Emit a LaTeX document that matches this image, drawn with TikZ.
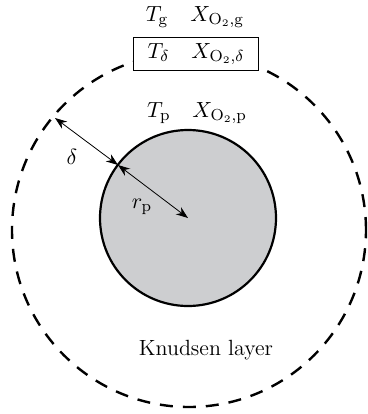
\documentclass[tikz,border=0pt]{standalone}
\usepackage{amsmath}
\usetikzlibrary{arrows.meta}
\definecolor{particlegray}{RGB}{205,206,208}

\begin{document}
\begin{tikzpicture}[x=0.5pt, y=-0.5pt, font=\fontsize{11}{13}\selectfont,
    dimline/.style={thin, {Stealth[length=6pt,width=4.4pt]}-{Stealth[length=6pt,width=4.4pt]}}]
    \useasboundingbox (0,0) rectangle (368,414);

    % Radien von Partikel und Knudsen-Schicht
    \def\rp{44pt}
    \def\rk{88.5pt}

    % Mittelpunkte
    \coordinate (pc) at (188,218);
    \coordinate (kc) at (189,230);

    % ==========================================
    % KNUDSEN-SCHICHT (gestrichelter Kreis)
    % ==========================================
    \draw[line width=1.2pt, dash pattern=on 6.5pt off 5pt] (kc) circle[radius=\rk];

    % Partikel (grau gefuellt)
    \draw[line width=1.1pt, fill=particlegray] (pc) circle[radius=\rp];

    % ==========================================
    % BEMASSUNG: delta und r_p
    % ==========================================
    \coordinate (ps) at (118,165);
    \coordinate (ls) at (55,118);
    \draw[dimline] (ls) -- (ps);
    \draw[dimline] (ps) -- (pc);
    \node (delta) at (72,157) {$\delta$};
    \node (rplabel) at (142,207) {$r_{\mathrm{p}}$};

    % ==========================================
    % BESCHRIFTUNGEN
    % ==========================================
    \node (gas) at (195,17) {$T_{\mathrm{g}}\quad X_{\mathrm{O}_2,\mathrm{g}}$};
    \node[draw, fill=white, thin, inner xsep=7pt, inner ysep=3pt] (layerbox) at (196,54)
        {$T_\delta\quad X_{\mathrm{O}_2,\delta}$};
    \node (surf) at (197,113) {$T_{\mathrm{p}}\quad X_{\mathrm{O}_2,\mathrm{p}}$};
    \node (knudsen) at (206,350) {Knudsen layer};
\end{tikzpicture}
\end{document}
